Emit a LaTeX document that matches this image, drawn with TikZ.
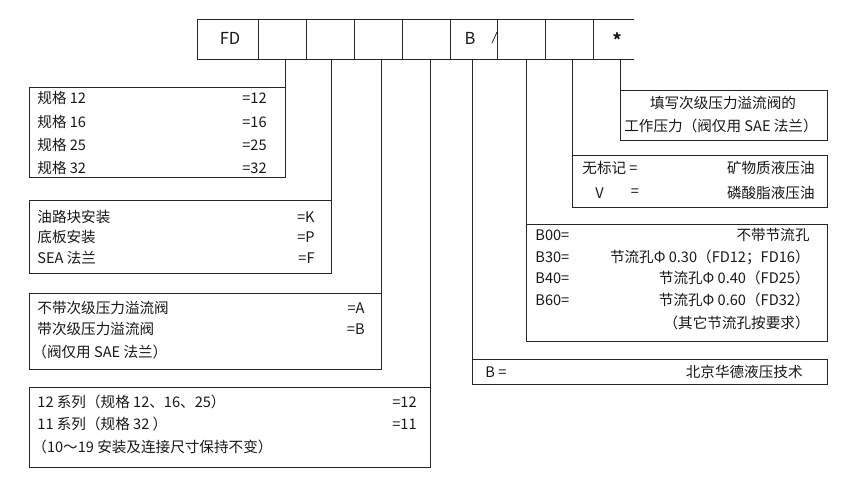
\documentclass[tikz,border=0pt]{standalone}
\usepackage{fontspec}
\setmainfont{Noto Sans CJK SC}
\begin{document}
\begin{tikzpicture}[x=1pt,y=-1pt,line width=0.8pt,draw=black!85,
  bx/.style 2 args={draw=black!85,rectangle,inner sep=0pt,anchor=north west,minimum width=#1pt,minimum height=#2pt},
  cell/.style={bx={#1}{40}},
  txt/.style={inner sep=0pt,text=black!90,font=\fontsize{14.6}{16}\selectfont},
  lt/.style={txt,anchor=west},
  rt/.style={txt,anchor=east},
  ct/.style={txt,anchor=center}]
\useasboundingbox (0,0) rectangle (842,476);
\fill[white] (0,0) rectangle (842,476);
% top row
\node[cell=61] (c1) at (197,19) {};
\node[cell=48] (c2) at (258,19) {};
\node[cell=48] (c3) at (306,19) {};
\node[cell=48] (c4) at (354,19) {};
\node[cell=48] (c5) at (402,19) {};
\node[cell=47] (c6) at (450,19) {};
\node[cell=48] (c7) at (497,19) {};
\node[cell=48] (c8) at (545,19) {};
\node[bx={40}{40},draw=none] (c9) at (593,19) {};
\draw (c9.north west) -- (c9.north east);
\draw (c9.south west) -- (c9.south east);
\node[ct,font=\fontsize{16.5}{18}\selectfont] (tFD) at (230,38) {FD};
\node[ct,font=\fontsize{16.5}{18}\selectfont] (tB) at (470,38) {B};
\coordinate (s1) at (492,43);
\coordinate (s2) at (497,32);
\draw (s1) -- (s2);
\node[ct,font=\fontsize{17}{18}\bfseries] (tstar) at (617,40) {*};
% boxes
\node[bx={256}{90}] (b1) at (29,87) {};
\node[bx={302}{73}] (b2) at (29,200) {};
\node[bx={352}{76}] (b3) at (29,293) {};
\node[bx={401}{80}] (b4) at (29,387) {};
\node[bx={355}{25}] (b5) at (472,359) {};
\node[bx={301}{117}] (b6) at (526,224) {};
\node[bx={255}{52}] (b7) at (572,155) {};
\node[bx={207}{50}] (b8) at (620,90) {};
% leaders
\foreach \b in {b1,b2,b3,b4}
  \draw (\b.north east) -- (\b.north east |- c1.south);
\foreach \b in {b5,b6,b7,b8}
  \draw (\b.north west) -- (\b.north west |- c1.south);
% box1
\node[lt] (a1) at (37,98) {规格 12};  \node[rt] (a1r) at (267,98) {=12};
\node[lt] (a2) at (37,122) {规格 16}; \node[rt] (a2r) at (267,122) {=16};
\node[lt] (a3) at (37,145) {规格 25}; \node[rt] (a3r) at (267,145) {=25};
\node[lt] (a4) at (37,168) {规格 32}; \node[rt] (a4r) at (267,168) {=32};
% box2
\node[lt] (k1) at (37,217) {油路块安装}; \node[rt] (k1r) at (315,217) {=K};
\node[lt] (k2) at (37,237) {底板安装};   \node[rt] (k2r) at (315,237) {=P};
\node[lt] (k3) at (37,258) {SEA 法兰};   \node[rt] (k3r) at (315,258) {=F};
% box3
\node[lt] (v1) at (37,308) {不带次级压力溢流阀}; \node[rt] (v1r) at (365,308) {=A};
\node[lt] (v2) at (37,329) {带次级压力溢流阀};   \node[rt] (v2r) at (365,329) {=B};
\node[lt] (v3) at (32,352) {（阀仅用 SAE 法兰）};
% box4
\node[lt] (s1t) at (37,402) {12 系列（规格 12、16、25）}; \node[rt] (s1r) at (417,402) {=12};
\node[lt] (s2t) at (37,424) {11 系列（规格 32 ）};         \node[rt] (s2r) at (417,424) {=11};
\node[lt] (s3t) at (32,447) {（10～19 安装及连接尺寸保持不变）};
% box8
\node[ct] (p1) at (723,103) {填写次级压力溢流阀的};
\node[ct] (p2) at (721,126) {工作压力（阀仅用 SAE 法兰）};
% box7
\node[lt] (m1) at (582,168) {无标记 =}; \node[rt] (m1r) at (815,168) {矿物质液压油};
\node[lt] (m2) at (595,193) {V};        \node[ct] (m2e) at (635,193) {=};
\node[rt] (m2r) at (815,193) {磷酸脂液压油};
% box6
\node[lt] (o1) at (535,235) {B00=}; \node[rt] (o1r) at (810,235) {不带节流孔};
\node[lt] (o2) at (535,257) {B30=}; \node[rt] (o2r) at (810,257) {节流孔Φ 0.30（FD12；FD16）};
\node[lt] (o3) at (535,278) {B40=}; \node[rt] (o3r) at (810,278) {节流孔Φ 0.40（FD25）};
\node[lt] (o4) at (535,300) {B60=}; \node[rt] (o4r) at (810,300) {节流孔Φ 0.60（FD32）};
\node[rt] (o5r) at (810,323) {（其它节流孔按要求）};
% box5
\node[lt] (h1) at (485,372) {B =}; \node[rt] (h1r) at (803,372) {北京华德液压技术};
\end{tikzpicture}
\end{document}
